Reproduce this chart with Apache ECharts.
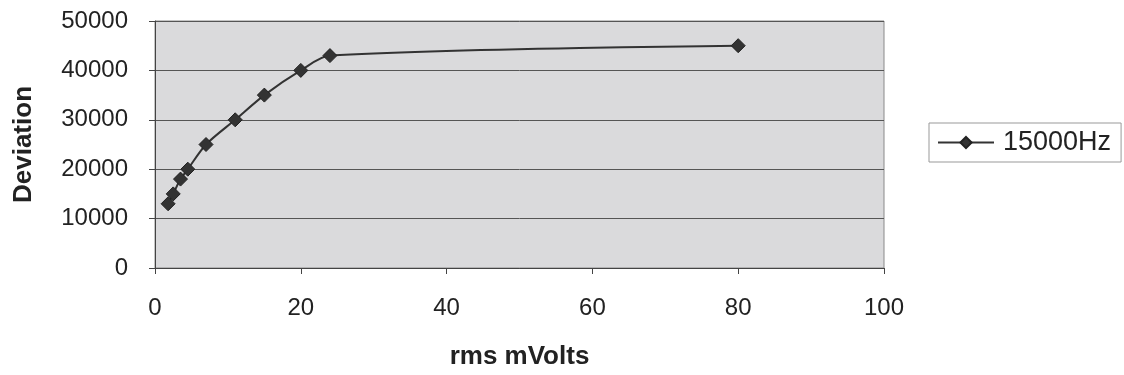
<!DOCTYPE html>
<html>
<head>
<meta charset="utf-8">
<script src="https://cdn.jsdelivr.net/npm/echarts@6/dist/echarts.min.js"></script>
<style>
  html, body { margin: 0; padding: 0; background: #fff; }
  #chart { width: 1124px; height: 375px; }
</style>
</head>
<body>
<div id="chart"></div>
<script>
const rmsMv = [1.8, 2.5, 3.5, 4.5, 7, 11, 15, 20, 24, 80];
const deviation = [13000, 15000, 18000, 20000, 25000, 30000, 35000, 40000, 43000, 45000];
const seriesName = "15000Hz";

const points = rmsMv.map((x, i) => [x, deviation[i]]);

const chart = echarts.init(document.getElementById("chart"));
const font = "Liberation Sans, Arial, sans-serif";

const option = {
  backgroundColor: "#ffffff",
  textStyle: { fontFamily: font },
  animation: false,
  grid: {
    left: 155,
    right: 240,
    top: 21,
    bottom: 107,
    show: true,
    backgroundColor: "#dadadc",
    borderColor: "#8a8a8a",
    borderWidth: 1
  },
  legend: {
    data: [seriesName],
    left: 929,
    top: 123,
    orient: "vertical",
    backgroundColor: "#ffffff",
    borderColor: "#999999",
    borderWidth: 1,
    padding: [6, 10, 6, 8],
    itemWidth: 56,
    itemHeight: 14,
    textStyle: { fontSize: 27, color: "#222", fontFamily: font, padding: [0, 0, 0, 4] }
  },
  xAxis: {
    type: "value",
    min: 0,
    max: 100,
    interval: 20,
    name: "rms mVolts",
    nameLocation: "middle",
    nameGap: 76,
    nameTextStyle: { fontSize: 26, fontWeight: "bold", color: "#222" },
    axisLine: { show: true, lineStyle: { color: "#444", width: 1 } },
    axisTick: { show: true, length: 6, lineStyle: { color: "#444" } },
    axisLabel: { fontSize: 24, color: "#222", margin: 28 },
    splitLine: { show: false }
  },
  yAxis: {
    type: "value",
    min: 0,
    max: 50000,
    interval: 10000,
    name: "Deviation",
    nameLocation: "middle",
    nameGap: 118,
    nameTextStyle: { fontSize: 26, fontWeight: "bold", color: "#222" },
    axisLine: { show: true, lineStyle: { color: "#444", width: 1 } },
    axisTick: { show: true, length: 6, lineStyle: { color: "#444" } },
    axisLabel: { fontSize: 24, color: "#222", margin: 27, formatter: (v) => String(v) },
    splitLine: { show: true, lineStyle: { color: "#555", width: 1 } }
  },
  series: [
    {
      name: seriesName,
      type: "line",
      data: points,
      smooth: 0.3,
      symbol: "diamond",
      symbolSize: 14,
      itemStyle: { color: "#333333", borderColor: "#222", borderWidth: 1 },
      lineStyle: { color: "#333333", width: 2 }
    }
  ]
};

chart.setOption(option);
</script>
</body>
</html>
